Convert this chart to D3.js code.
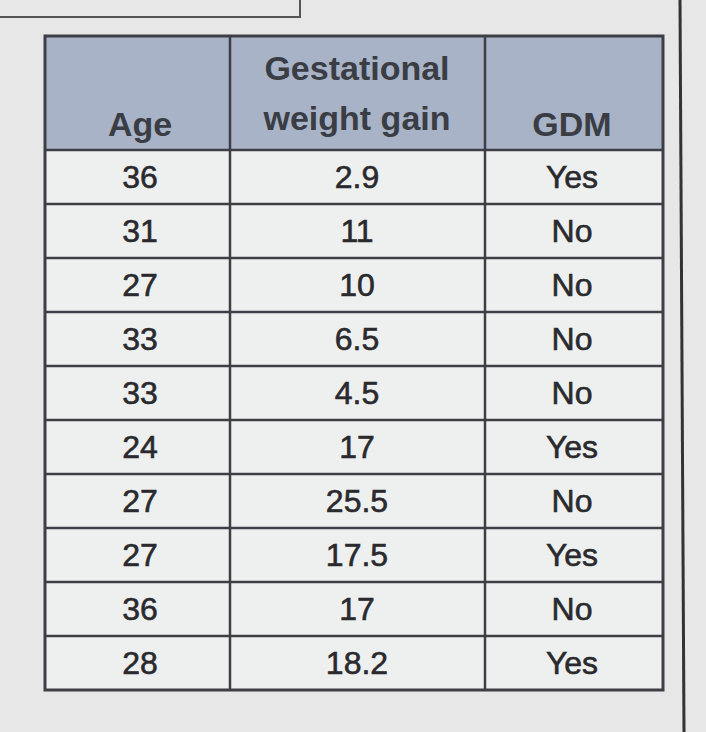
<!DOCTYPE html>
<html><head><meta charset="utf-8">
<script src="https://cdn.jsdelivr.net/npm/d3@7"></script>
<style>body{margin:0;background:#e4e5e4;}</style>
</head><body>
<svg id="c" width="706" height="732"></svg>
<script>
const headers = [["Age"], ["Gestational", "weight gain"], ["GDM"]];
const ages = [36, 31, 27, 33, 33, 24, 27, 27, 36, 28];
const gains = ["2.9", "11", "10", "6.5", "4.5", "17", "25.5", "17.5", "17", "18.2"];
const gdm = ["Yes", "No", "No", "No", "No", "Yes", "No", "Yes", "No", "Yes"];

const svg = d3.select("#c");
svg.append("rect").attr("width",706).attr("height",732).attr("fill","#e6e7e6");
svg.append("path").attr("d","M0,17 H300 V0").attr("fill","none").attr("stroke","#555").attr("stroke-width",2);
svg.append("line").attr("x1",680).attr("x2",684).attr("y1",0).attr("y2",732).attr("stroke","#333").attr("stroke-width",3);

const colEdges = [45, 230, 485, 663];
const headTop = 36, headBot = 150, bottom = 690;
const y = d3.scaleBand().domain(d3.range(ages.length)).range([headBot, bottom]);
const rowsData = ages.map((a,i)=>[String(a), gains[i], gdm[i]]);
const colCenters = [140, 357, 572];

svg.append("rect").attr("x",colEdges[0]).attr("y",headTop).attr("width",colEdges[3]-colEdges[0]).attr("height",headBot-headTop).attr("fill","#a8b3c7");
svg.append("rect").attr("x",colEdges[0]).attr("y",headBot).attr("width",colEdges[3]-colEdges[0]).attr("height",bottom-headBot).attr("fill","#eef0ef");

headers.forEach((h,i)=>{
  const t = svg.append("text").attr("x",colCenters[i]).attr("text-anchor","middle")
    .attr("font-family","Liberation Sans, Arial").attr("font-weight","bold").attr("font-size",34).attr("fill","#3a3d44");
  h.forEach((l,k)=>{
    t.append("tspan").attr("x",colCenters[i]).attr("y",h.length>1 ? 80 + k*50 : 136).text(l);
  });
});
rowsData.forEach((r,i)=>{
  r.forEach((v,j)=>{
    svg.append("text").attr("x",colCenters[j]).attr("y",y(i)+y.bandwidth()/2+11)
      .attr("text-anchor","middle").attr("font-family","Liberation Sans, Arial")
      .attr("font-size",32).attr("fill","#2a2a2e").attr("stroke","#2a2a2e").attr("stroke-width",0.6).text(v);
  });
});
const g = svg.append("g").attr("stroke","#3d3f45").attr("fill","none");
g.append("rect").attr("x",colEdges[0]).attr("y",headTop).attr("width",colEdges[3]-colEdges[0]).attr("height",bottom-headTop).attr("stroke-width",3);
colEdges.slice(1,3).forEach(x=>g.append("line").attr("x1",x).attr("x2",x).attr("y1",headTop).attr("y2",bottom).attr("stroke-width",2.5));
d3.range(ages.length).forEach(i=>g.append("line").attr("x1",colEdges[0]).attr("x2",colEdges[3]).attr("y1",y(i)).attr("y2",y(i)).attr("stroke-width",2.5));
</script>
</body></html>
